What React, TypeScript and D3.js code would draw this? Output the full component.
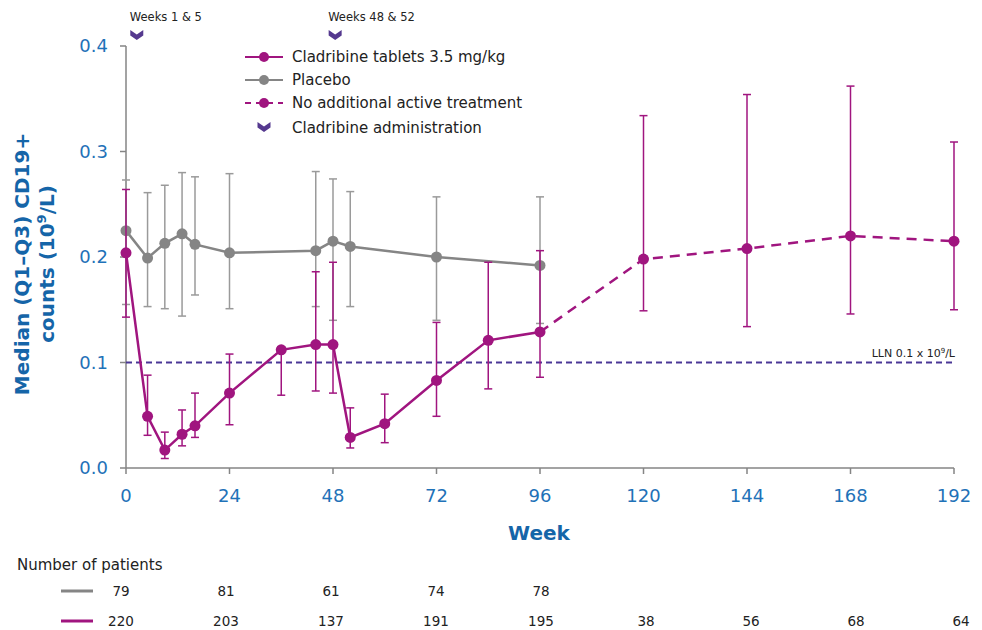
import React from "react";
import * as d3 from "d3";

// ---------- data ----------
const placeboWeeks = [0, 5, 9, 13, 16, 24, 44, 48, 52, 72, 96];
const placeboMedian = [0.225, 0.199, 0.213, 0.222, 0.212, 0.204, 0.206, 0.215, 0.21, 0.2, 0.192];
const placeboQ1 = [0.155, 0.153, 0.151, 0.144, 0.164, 0.151, 0.153, 0.14, 0.153, 0.14, 0.137];
const placeboQ3 = [0.273, 0.261, 0.268, 0.28, 0.276, 0.279, 0.281, 0.274, 0.262, 0.257, 0.257];

const cladWeeks = [0, 5, 9, 13, 16, 24, 36, 44, 48, 52, 60, 72, 84, 96];
const cladMedian = [0.204, 0.049, 0.017, 0.032, 0.04, 0.071, 0.112, 0.117, 0.117, 0.029, 0.042, 0.083, 0.121, 0.129];
const cladQ1 = [0.143, 0.031, 0.009, 0.021, 0.029, 0.041, 0.069, 0.073, 0.071, 0.019, 0.024, 0.049, 0.075, 0.086];
const cladQ3 = [0.264, 0.088, 0.034, 0.055, 0.071, 0.108, 0.115, 0.186, 0.195, 0.057, 0.07, 0.138, 0.195, 0.206];

const extWeeks = [120, 144, 168, 192];
const extMedian = [0.198, 0.208, 0.22, 0.215];
const extQ1 = [0.149, 0.134, 0.146, 0.15];
const extQ3 = [0.334, 0.354, 0.362, 0.309];

const xTicks = [0, 24, 48, 72, 96, 120, 144, 168, 192];
const yTicks = [0, 0.1, 0.2, 0.3, 0.4];
const lln = 0.1;

const nWeeks = [0, 24, 48, 72, 96, 120, 144, 168, 192];
const nPlacebo = [79, 81, 61, 74, 78];
const nClad = [220, 203, 137, 191, 195, 38, 56, 68, 64];

const adminLabels = ["Weeks 1 & 5", "Weeks 48 & 52"];
const adminWeeks = [2.5, 48.5];

const legendLabels = [
  "Cladribine tablets 3.5 mg/kg",
  "Placebo",
  "No additional active treatment",
  "Cladribine administration",
];

// ---------- styles ----------
const MAGENTA = "#A0157F";
const GRAY = "#858585";
const PURPLE = "#55398F";
const BLUE = "#1F72B8";
const DARKBLUE = "#1565A8";
const FONT = "'DejaVu Sans', Verdana, sans-serif";

const x = d3.scaleLinear().domain([0, 192]).range([126, 954]);
const y = d3.scaleLinear().domain([0, 0.4]).range([468, 46]);
const xN = d3.scaleLinear().domain([0, 192]).range([121, 961]);

const lineGen = d3
  .line<[number, number]>()
  .x((d) => x(d[0]))
  .y((d) => y(d[1]));

const chevron = (cx: number, cy: number) =>
  `M${cx - 6.5},${cy - 5} L${cx},${cy - 0.5} L${cx + 6.5},${cy - 5} L${cx + 6.5},${cy + 0.5} L${cx},${cy + 5} L${cx - 6.5},${cy + 0.5} Z`;

function ErrorBars({ weeks, lo, hi, color }: { weeks: number[]; lo: number[]; hi: number[]; color: string }) {
  return (
    <g stroke={color} strokeWidth={1.5} fill="none">
      {weeks.map((w, i) => (
        <g key={i}>
          <line x1={x(w)} x2={x(w)} y1={y(lo[i])} y2={y(hi[i])} />
          <line x1={x(w) - 4} x2={x(w) + 4} y1={y(lo[i])} y2={y(lo[i])} />
          <line x1={x(w) - 4} x2={x(w) + 4} y1={y(hi[i])} y2={y(hi[i])} />
        </g>
      ))}
    </g>
  );
}

export default function App() {
  const placeboPts = placeboWeeks.map((w, i) => [w, placeboMedian[i]] as [number, number]);
  const cladPts = cladWeeks.map((w, i) => [w, cladMedian[i]] as [number, number]);
  const extPts = [cladPts[cladPts.length - 1], ...extWeeks.map((w, i) => [w, extMedian[i]] as [number, number])];

  const legY = [57, 80, 103, 128];

  return (
    <svg
      width={982}
      height={630}
      style={{ position: "absolute", left: 0, top: 0, background: "#fff" }}
      fontFamily={FONT}
    >
      {/* axes */}
      <g stroke={GRAY} strokeWidth={1.5} fill="none">
        <line x1={x(0)} x2={x(0)} y1={y(0.4)} y2={y(0)} />
        <line x1={x(0)} x2={x(192)} y1={y(0)} y2={y(0)} />
        {yTicks.map((t) => (
          <line key={t} x1={x(0) - 6} x2={x(0)} y1={y(t)} y2={y(t)} />
        ))}
        {xTicks.map((t) => (
          <line key={t} x1={x(t)} x2={x(t)} y1={y(0)} y2={y(0) + 6} />
        ))}
      </g>
      {yTicks.map((t) => (
        <text key={t} x={108} y={y(t)} dy="0.36em" textAnchor="end" fontSize={18} fill={BLUE}>
          {t.toFixed(1)}
        </text>
      ))}
      {xTicks.map((t) => (
        <text key={t} x={x(t)} y={502} textAnchor="middle" fontSize={18} fill={BLUE}>
          {t}
        </text>
      ))}
      <text x={539} y={540} textAnchor="middle" fontSize={20} fontWeight="bold" fill={DARKBLUE}>
        Week
      </text>
      <g transform="translate(0,264) rotate(-90)">
        <text x={0} y={29} textAnchor="middle" fontSize={20} fontWeight="bold" fill={DARKBLUE}>
          Median (Q1–Q3) CD19+
        </text>
        <text x={0} y={54} textAnchor="middle" fontSize={20} fontWeight="bold" fill={DARKBLUE}>
          counts (10<tspan fontSize={13} dy={-8}>9</tspan>
          <tspan dy={8}>/L)</tspan>
        </text>
      </g>

      {/* LLN */}
      <line x1={x(0)} x2={x(192)} y1={y(lln)} y2={y(lln)} stroke="#4A3796" strokeWidth={2} strokeDasharray="6,4" />
      <text x={955} y={357} textAnchor="end" fontSize={11} fill="#222">
        LLN 0.1 x 10<tspan fontSize={7} dy={-4}>9</tspan>
        <tspan dy={4}>/L</tspan>
      </text>

      {/* placebo */}
      <ErrorBars weeks={placeboWeeks} lo={placeboQ1} hi={placeboQ3} color="#9a9a9a" />
      <path d={lineGen(placeboPts) || ""} fill="none" stroke={GRAY} strokeWidth={2.5} />
      {placeboPts.map((p, i) => (
        <circle key={i} cx={x(p[0])} cy={y(p[1])} r={5.5} fill={GRAY} />
      ))}

      {/* cladribine */}
      <ErrorBars weeks={cladWeeks} lo={cladQ1} hi={cladQ3} color={MAGENTA} />
      <ErrorBars weeks={extWeeks} lo={extQ1} hi={extQ3} color={MAGENTA} />
      <path d={lineGen(cladPts) || ""} fill="none" stroke={MAGENTA} strokeWidth={2.5} />
      <path d={lineGen(extPts) || ""} fill="none" stroke={MAGENTA} strokeWidth={2.5} strokeDasharray="10,7" />
      {cladPts.map((p, i) => (
        <circle key={i} cx={x(p[0])} cy={y(p[1])} r={5.5} fill={MAGENTA} />
      ))}
      {extPts.slice(1).map((p, i) => (
        <circle key={i} cx={x(p[0])} cy={y(p[1])} r={5.5} fill={MAGENTA} />
      ))}

      {/* administration markers */}
      {adminWeeks.map((w, i) => (
        <g key={i}>
          <text x={x(w) - 7} y={21} fontSize={11.5} fill="#222">
            {adminLabels[i]}
          </text>
          <path d={chevron(x(w), 35)} fill={PURPLE} />
        </g>
      ))}

      {/* legend */}
      <g>
        <line x1={245} x2={283} y1={legY[0]} y2={legY[0]} stroke={MAGENTA} strokeWidth={2} />
        <circle cx={264} cy={legY[0]} r={5} fill={MAGENTA} />
        <line x1={245} x2={283} y1={legY[1]} y2={legY[1]} stroke={GRAY} strokeWidth={2} />
        <circle cx={264} cy={legY[1]} r={5} fill={GRAY} />
        <line x1={245} x2={283} y1={legY[2]} y2={legY[2]} stroke={MAGENTA} strokeWidth={2} strokeDasharray="6,5" />
        <circle cx={264} cy={legY[2]} r={5} fill={MAGENTA} />
        <path d={chevron(264, legY[3] - 1)} fill={PURPLE} />
        {legendLabels.map((l, i) => (
          <text key={i} x={292} y={legY[i]} dy="0.36em" fontSize={15} fill="#222">
            {l}
          </text>
        ))}
      </g>

      {/* number of patients */}
      <text x={17} y={570} fontSize={15} fill="#222">
        Number of patients
      </text>
      <line x1={61} x2={93} y1={591} y2={591} stroke={GRAY} strokeWidth={3} />
      <line x1={61} x2={93} y1={621} y2={621} stroke={MAGENTA} strokeWidth={3} />
      {nPlacebo.map((n, i) => (
        <text key={i} x={xN(nWeeks[i])} y={591} dy="0.36em" textAnchor="middle" fontSize={13.5} fill="#222">
          {n}
        </text>
      ))}
      {nClad.map((n, i) => (
        <text key={i} x={xN(nWeeks[i])} y={621} dy="0.36em" textAnchor="middle" fontSize={13.5} fill="#222">
          {n}
        </text>
      ))}
    </svg>
  );
}
